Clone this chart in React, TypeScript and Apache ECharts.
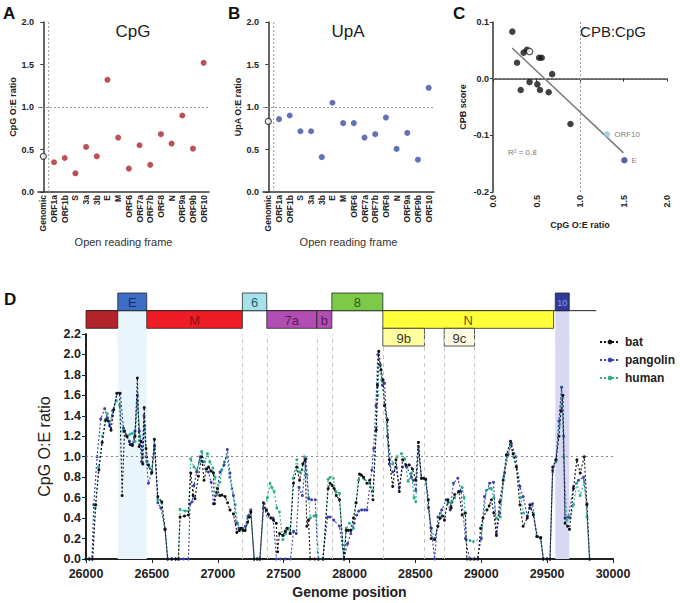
import React, { useEffect, useRef } from "react";
import * as echarts from "echarts";

// ---------- Panel A / B data ----------
const orfCategories = ["Genomic", "ORF1a", "ORF1b", "S", "3a", "3b", "E", "M", "ORF6", "ORF7a", "ORF7b", "ORF8", "N", "ORF9a", "ORF9b", "ORF10"];
const cpgRatio = [0.42, 0.35, 0.4, 0.22, 0.53, 0.42, 1.32, 0.64, 0.275, 0.55, 0.32, 0.68, 0.57, 0.9, 0.51, 1.52];
const upaRatio = [0.83, 0.857, 0.9, 0.715, 0.715, 0.41, 1.05, 0.81, 0.81, 0.64, 0.68, 0.876, 0.507, 0.695, 0.38, 1.226];

// ---------- Panel C data ----------
const cpbPointX = [0.222, 0.276, 0.318, 0.352, 0.39, 0.42, 0.51, 0.53, 0.54, 0.56, 0.64, 0.68, 0.89];
const cpbPointY = [0.083, 0.028, -0.02, 0.046, 0.051, -0.006, -0.01, 0.037, -0.02, 0.037, -0.024, 0.008, -0.08];
const cpbGenomic = [0.42, 0.048];
const cpbOrf10 = [1.31, -0.098];
const cpbE = [1.51, -0.144];
const regressionX = [0.22, 1.5];
const regressionY = [0.054, -0.131];

// ---------- Panel D data ----------
const batProfile = [
  [26000, 0], [26025, 0], [26050, 0], [26074, 0.53], [26098, 0.87], [26123, 1.14], [26150, 1.36], [26170, 1.35], [26190, 1.26], [26210, 1.46],
  [26235, 1.62], [26255, 1.62], [26274, 0.62], [26292, 1.25], [26312, 1.2], [26335, 1.12], [26352, 1.11], [26372, 1.2], [26390, 1.77], [26403, 1.1],
  [26418, 1.15], [26431, 0.93], [26442, 1.48], [26456, 1.08], [26474, 0.92], [26498, 0.84], [26519, 1.17], [26545, 0.61], [26575, 0.56], [26600, 0.29],
  [26620, 0], [26650, 0], [26680, 0], [26701, 0], [26714, 0.41], [26748, 0.42], [26777, 0.43], [26795, 0.84], [26813, 0.62], [26827, 0.59],
  [26853, 0.81], [26878, 1.0], [26896, 0.77], [26916, 0.88], [26930, 0.9], [26950, 0.86], [26967, 0.84], [26975, 0.54], [26998, 0.69], [27015, 0.62],
  [27031, 0.625], [27056, 0.61], [27075, 0.55], [27093, 0.48], [27119, 0.44], [27145, 0.26], [27163, 0.28], [27176, 0.3], [27193, 0.28], [27208, 0.28],
  [27227, 0.36], [27241, 0.41], [27251, 0.46], [27277, 0], [27300, 0], [27320, 0], [27347, 0.55], [27369, 0.48], [27384, 0.44], [27403, 0.4],
  [27423, 0.38], [27444, 0.35], [27454, 0.07], [27469, 0.25], [27494, 0.23], [27512, 0.27], [27525, 0.3], [27549, 0.25], [27575, 0.74], [27600, 0.9],
  [27621, 0.77], [27646, 0.93], [27663, 0.97], [27676, 0.32], [27689, 0.38], [27702, 0], [27735, 0], [27765, 0], [27800, 0], [27838, 0.69],
  [27853, 0.74], [27868, 0.72], [27883, 0.69], [27900, 0.62], [27924, 0.58], [27959, 0], [27975, 0.28], [27992, 0.28], [28010, 0.28], [28030, 0.4],
  [28050, 0.55], [28076, 0.83], [28090, 0.82], [28107, 0.8], [28132, 0.74], [28153, 0.77], [28178, 0.58], [28203, 1.26], [28212, 1.7], [28222, 2.03],
  [28240, 1.85], [28255, 1.75], [28266, 1.5], [28288, 1.36], [28302, 0.97], [28328, 0.71], [28353, 0.97], [28378, 0.66], [28403, 0.97], [28428, 0.92],
  [28453, 0.92], [28478, 0.88], [28503, 0.77], [28523, 1.14], [28546, 0.79], [28563, 0.79], [28578, 0.78], [28598, 0.58], [28620, 0.2], [28646, 0.19],
  [28671, 0.32], [28689, 0.4], [28706, 0.42], [28721, 0.38], [28747, 0.58], [28772, 0.5], [28798, 0.63], [28830, 0.66], [28855, 0.43], [28880, 0.45],
  [28891, 0], [28920, 0], [28950, 0], [28975, 0], [28995, 0.3], [29013, 0.4], [29043, 0.48], [29060, 0.52], [29077, 0.58], [29095, 0.45],
  [29115, 0.23], [29140, 0.56], [29166, 0.77], [29191, 1.02], [29222, 1.15], [29242, 1.03], [29267, 0.9], [29293, 0.53], [29318, 0.32], [29349, 0.4],
  [29369, 0.53], [29395, 0.43], [29425, 0.22], [29451, 0.21], [29471, 0], [29500, 0], [29522, 0], [29542, 0.9], [29567, 0.97], [29590, 1.2],
  [29605, 1.45], [29620, 1.6], [29636, 0.35], [29655, 0.32], [29670, 0.29], [29700, 0.69], [29726, 0.97], [29751, 0.84], [29782, 1.0], [29802, 0.53],
  [29822, 0],
];
const pangolinProfile = [
  [26000, 0], [26025, 0], [26045, 0], [26059, 0.53], [26084, 1.0], [26112, 1.37], [26142, 1.47], [26162, 1.38], [26180, 1.3], [26200, 1.4],
  [26235, 1.62], [26260, 1.62], [26285, 1.28], [26310, 1.2], [26330, 1.15], [26352, 1.12], [26372, 1.25], [26390, 1.6], [26405, 1.25], [26422, 0.95],
  [26440, 1.4], [26456, 1.0], [26474, 0.74], [26500, 0.85], [26520, 1.1], [26545, 0.55], [26568, 0.5], [26600, 0.29], [26620, 0], [26650, 0],
  [26680, 0], [26710, 0], [26740, 0], [26777, 0], [26790, 0.54], [26805, 0.56], [26820, 0.72], [26840, 0.85], [26866, 1.0], [26885, 0.95],
  [26910, 0.88], [26930, 0.85], [26950, 0.75], [26967, 0.54], [26990, 0.65], [27018, 0.85], [27048, 0.92], [27073, 1.07], [27093, 0.84], [27119, 0.62],
  [27140, 0.35], [27160, 0.3], [27185, 0.3], [27210, 0.32], [27230, 0.42], [27251, 0.48], [27275, 0], [27300, 0], [27320, 0], [27347, 0.5],
  [27380, 0.42], [27420, 0.4], [27445, 0], [27475, 0], [27510, 0], [27552, 0], [27575, 0.27], [27596, 0.25], [27617, 0.7], [27642, 0.62],
  [27670, 0.98], [27690, 0.59], [27712, 0.58], [27740, 0.58], [27760, 0], [27795, 0], [27835, 0.41], [27853, 0.41], [27880, 0.38], [27924, 0.32],
  [27959, 0], [27985, 0.15], [28010, 0.25], [28035, 0.35], [28055, 0.43], [28070, 0.47], [28092, 0.48], [28115, 0.48], [28132, 0.48], [28170, 0.87],
  [28183, 1.08], [28200, 1.5], [28215, 2.0], [28235, 1.9], [28250, 1.7], [28266, 1.72], [28288, 1.2], [28302, 0.93], [28328, 0.85], [28353, 0.9],
  [28378, 0.7], [28403, 0.9], [28435, 0.9], [28470, 0.8], [28485, 0.77], [28503, 0.67], [28523, 1.1], [28546, 0.79], [28578, 0.78], [28598, 0.5],
  [28620, 0.3], [28646, 0], [28671, 0.41], [28700, 0.48], [28733, 0.58], [28764, 0.48], [28789, 0.74], [28822, 0.79], [28847, 0.66], [28880, 0.2],
  [28911, 0], [28940, 0], [28970, 0], [29000, 0.2], [29025, 0.61], [29063, 0.74], [29093, 0.75], [29115, 0.25], [29140, 0.45], [29178, 0.84],
  [29204, 1.02], [29229, 1.13], [29262, 1.0], [29293, 0.71], [29318, 0.61], [29350, 0.42], [29370, 0.5], [29389, 0.54], [29420, 0.22], [29450, 0.2],
  [29471, 0], [29500, 0], [29522, 0], [29542, 0.87], [29567, 0.97], [29590, 1.35], [29610, 1.68], [29625, 1.2], [29636, 0.4], [29662, 0.41],
  [29700, 0.71], [29738, 0.77], [29776, 0.8], [29802, 0.54], [29822, 0],
];
const humanProfile = [
  [26000, 0], [26025, 0], [26050, 0], [26070, 0.5], [26095, 0.9], [26125, 1.2], [26145, 1.35], [26162, 1.42], [26180, 1.3], [26200, 1.45],
  [26230, 1.55], [26255, 1.5], [26280, 1.25], [26305, 1.2], [26335, 1.22], [26352, 1.23], [26372, 1.15], [26390, 1.55], [26410, 1.2], [26430, 1.0],
  [26445, 1.3], [26460, 0.95], [26480, 0.9], [26500, 0.85], [26520, 1.12], [26545, 0.58], [26575, 0.55], [26600, 0.29], [26620, 0], [26650, 0],
  [26680, 0], [26701, 0], [26714, 0.485], [26752, 0.47], [26777, 0.47], [26795, 0.98], [26820, 0.9], [26841, 0.87], [26860, 0.95], [26878, 1.05],
  [26900, 0.95], [26922, 1.03], [26940, 0.95], [26963, 0.89], [26980, 0.8], [26993, 0.63], [27015, 0.75], [27031, 0.87], [27050, 0.95], [27070, 1.0],
  [27090, 0.8], [27107, 0.69], [27133, 0.53], [27150, 0.35], [27170, 0.28], [27190, 0.3], [27210, 0.32], [27227, 0.4], [27251, 0.46], [27277, 0],
  [27300, 0], [27320, 0], [27349, 0.5], [27377, 0.6], [27397, 0.74], [27410, 0.7], [27428, 0.66], [27448, 0.5], [27468, 0.46], [27494, 0.19],
  [27515, 0.25], [27540, 0.3], [27552, 0.25], [27572, 0.79], [27600, 0.97], [27620, 0.85], [27640, 0.87], [27657, 1.0], [27676, 0.82], [27690, 0.6],
  [27702, 0.4], [27730, 0.42], [27748, 0.43], [27765, 0], [27800, 0], [27838, 0.78], [27853, 0.8], [27876, 0.79], [27897, 0.66], [27924, 0.64],
  [27954, 0], [27975, 0.3], [28000, 0.35], [28030, 0.3], [28050, 0.55], [28068, 0.77], [28107, 0.79], [28150, 0.74], [28178, 0.67], [28203, 1.29],
  [28215, 1.6], [28225, 1.9], [28245, 1.75], [28266, 1.5], [28296, 1.11], [28328, 0.93], [28360, 1.0], [28395, 1.03], [28420, 0.98], [28445, 0.76],
  [28470, 0.84], [28490, 0.6], [28503, 0.56], [28523, 1.07], [28546, 0.79], [28578, 0.78], [28598, 0.58], [28620, 0.3], [28646, 0.2], [28671, 0.32],
  [28690, 0.45], [28720, 0.42], [28747, 0.55], [28772, 0.55], [28798, 0.6], [28830, 0.66], [28855, 0.7], [28870, 0.6], [28887, 0.19], [28915, 0.18],
  [28942, 0.17], [29000, 0.2], [29038, 0.67], [29063, 0.69], [29077, 0.69], [29095, 0.6], [29115, 0.4], [29145, 0.41], [29170, 0.8], [29195, 1.0],
  [29222, 1.1], [29245, 1.0], [29280, 0.8], [29300, 0.6], [29320, 0.45], [29349, 0.42], [29369, 0.5], [29395, 0.45], [29425, 0.22], [29451, 0.21],
  [29471, 0], [29500, 0], [29522, 0], [29542, 0.85], [29567, 0.95], [29590, 1.3], [29610, 1.68], [29625, 1.0], [29650, 0.38], [29675, 0.4],
  [29700, 0.53], [29726, 0.74], [29751, 0.62], [29782, 0.76], [29802, 0.41], [29822, 0],
];

// Genome map (positions in nt, row 0 = top)
const geneLabels = ["", "E", "M", "6", "7a", "b", "8", "N", "9b", "9c", "10"];
const geneStarts = [26000, 26241, 26461, 27187, 27372, 27752, 27866, 28253, 28253, 28719, 29562];
const geneEnds = [26241, 26461, 27187, 27372, 27752, 27866, 28253, 29549, 28569, 28949, 29668];
const geneRows = [1, 0, 1, 0, 1, 1, 0, 1, 2, 2, 0];
const geneBoundaries = [27187, 27372, 27752, 27866, 28253, 28569, 28719, 28949];
const shadedE = [26241, 26461];
const shadedOrf10 = [29562, 29668];
const genomeLineEnd = 29873;

// styles (not data)
const geneFill = ["#b3232a", "#3e6dc6", "#ee1d25", "#a6e2ec", "#b24db3", "#b24db3", "#7dca48", "#ffff3a", "#ffff9e", "#fffbe2", "#2f3b9b"];
const geneText = ["#000", "#1b2a66", "#8a1014", "#2b5964", "#5a1a5a", "#5a1a5a", "#2a5b17", "#5a5a00", "#333", "#333", "#8e9be6"];

const FONT = "'Liberation Sans', Arial, Helvetica, sans-serif";
const AX = "#333";

function fmt1(v: number) {
  const r = Math.round(v * 10) / 10;
  return (Math.abs(r) < 1e-9 ? 0 : r).toFixed(1);
}

const noSym: any = ["none", "none"];

function orfPanel(idx: number, values: number[], color: string) {
  return [
    {
      type: "scatter",
      xAxisIndex: idx * 2,
      yAxisIndex: idx,
      symbolSize: 6,
      itemStyle: { color },
      data: values.map((v, i) =>
        i === 0
          ? { value: [orfCategories[i], v], itemStyle: { color: "#fff", borderColor: "#222", borderWidth: 1.2 } }
          : [orfCategories[i], v]
      ),
      markLine: {
        silent: true,
        symbol: noSym,
        label: { show: false },
        lineStyle: { color: "#999", type: [2, 2], width: 1 },
        data: [{ yAxis: 1 }],
      },
      z: 5,
    },
    {
      type: "line",
      xAxisIndex: idx * 2 + 1,
      yAxisIndex: idx,
      showSymbol: false,
      symbol: "none",
      lineStyle: { color: "#999", type: [2, 2], width: 1 },
      data: [[0.5, 0], [0.5, 2]],
      z: 1,
      silent: true,
    },
  ];
}

export default function App() {
  const ref = useRef<HTMLDivElement>(null);
  useEffect(() => {
    const chart = echarts.init(ref.current!, null, { renderer: "svg" });

    const catAxis = (gridIndex: number, name: string) => ({
      type: "category",
      gridIndex,
      data: orfCategories,
      boundaryGap: true,
      name,
      nameLocation: "middle",
      nameGap: 44,
      nameTextStyle: { fontFamily: FONT, fontSize: 11, color: "#333" },
      axisLine: { lineStyle: { color: AX, width: 1.5 } },
      axisTick: { alignWithLabel: true, length: 3, lineStyle: { color: AX } },
      axisLabel: { rotate: 90, interval: 0, margin: 3, fontFamily: FONT, fontSize: 8.5, fontWeight: "bold", color: "#222" },
      splitLine: { show: false },
    });
    const hiddenAxis = (gridIndex: number) => ({ type: "value", gridIndex, min: -0.5, max: 15.5, show: false });
    const ratioAxis = (gridIndex: number, name: string) => ({
      type: "value",
      gridIndex,
      min: 0,
      max: 2,
      interval: 0.5,
      name,
      nameLocation: "middle",
      nameGap: 20,
      nameTextStyle: { fontFamily: FONT, fontSize: 9, fontWeight: "bold", color: "#222" },
      axisLine: { show: true, lineStyle: { color: AX, width: 1.5 } },
      axisTick: { show: true, length: 3, lineStyle: { color: AX } },
      axisLabel: { formatter: fmt1, margin: 4, fontFamily: FONT, fontSize: 9, fontWeight: "bold", color: "#222" },
      splitLine: { show: false },
    });

    const dotted = (color: string) => ({ color, width: 1.1, type: [2, 2] });

    const option: any = {
      animation: false,
      backgroundColor: "#fff",
      textStyle: { fontFamily: FONT },
      grid: [
        { left: 38, top: 22, width: 171, height: 170 },
        { left: 263, top: 22, width: 171, height: 170 },
        { left: 493, top: 22, width: 174, height: 170 },
        { left: 86, top: 334, width: 527, height: 225 },
        { left: 86, top: 293, width: 527, height: 53 },
      ],
      legend: {
        orient: "vertical",
        left: 594,
        top: 331,
        itemWidth: 20,
        itemHeight: 6,
        itemGap: 6,
        data: ["bat", "pangolin", "human"],
        textStyle: { fontFamily: FONT, fontSize: 12, fontWeight: "bold", color: "#222" },
      },
      xAxis: [
        catAxis(0, "Open reading frame"),
        hiddenAxis(0),
        catAxis(1, "Open reading frame"),
        hiddenAxis(1),
        {
          type: "value",
          gridIndex: 2,
          min: 0,
          max: 2,
          interval: 0.5,
          name: "CpG O:E ratio",
          nameLocation: "middle",
          nameGap: 28,
          nameTextStyle: { fontFamily: FONT, fontSize: 9, fontWeight: "bold", color: "#222" },
          axisLine: { lineStyle: { color: AX, width: 1.5 } },
          axisTick: { show: true, length: 3, lineStyle: { color: AX } },
          axisLabel: { rotate: 90, formatter: fmt1, margin: 3, fontFamily: FONT, fontSize: 9, fontWeight: "bold", color: "#222" },
          splitLine: { show: false },
        },
        {
          type: "value",
          gridIndex: 3,
          min: 26000,
          max: 30000,
          interval: 500,
          name: "Genome position",
          nameLocation: "middle",
          nameGap: 26,
          nameTextStyle: { fontFamily: FONT, fontSize: 14, fontWeight: "bold", color: "#222" },
          axisLine: { lineStyle: { color: "#222", width: 2 } },
          axisTick: { show: true, length: 4, lineStyle: { color: "#222" } },
          axisLabel: { formatter: (v: number) => String(v), margin: 8, fontFamily: FONT, fontSize: 12.5, fontWeight: "bold", color: "#222" },
          splitLine: { show: false },
        },
        { type: "value", gridIndex: 4, min: 26000, max: 30000, show: false },
      ],
      yAxis: [
        ratioAxis(0, "CpG O:E ratio"),
        ratioAxis(1, "UpA O:E ratio"),
        {
          type: "value",
          gridIndex: 2,
          min: -0.2,
          max: 0.1,
          interval: 0.1,
          name: "CPB score",
          nameLocation: "middle",
          nameGap: 26,
          nameTextStyle: { fontFamily: FONT, fontSize: 9, fontWeight: "bold", color: "#222" },
          axisLine: { show: true, lineStyle: { color: AX, width: 1.5 } },
          axisTick: { show: true, length: 3, lineStyle: { color: AX } },
          axisLabel: { formatter: fmt1, margin: 4, fontFamily: FONT, fontSize: 9, fontWeight: "bold", color: "#222" },
          splitLine: { show: false },
        },
        {
          type: "value",
          gridIndex: 3,
          min: 0,
          max: 2.2,
          interval: 0.2,
          name: "CpG O:E ratio",
          nameLocation: "middle",
          nameGap: 30,
          nameTextStyle: { fontFamily: FONT, fontSize: 16, color: "#222" },
          axisLine: { show: true, lineStyle: { color: "#222", width: 2 } },
          axisTick: { show: true, length: 4, lineStyle: { color: "#222" } },
          axisLabel: { formatter: fmt1, margin: 5, fontFamily: FONT, fontSize: 12.5, fontWeight: "bold", color: "#222" },
          splitLine: { show: false },
        },
        { type: "value", gridIndex: 4, min: 0, max: 3, inverse: true, show: false },
      ],
      series: [
        ...orfPanel(0, cpgRatio, "#a8262a"),
        ...orfPanel(1, upaRatio, "#3b4ea8"),
        // Panel C
        {
          type: "line",
          xAxisIndex: 4,
          yAxisIndex: 2,
          symbol: "none",
          lineStyle: { color: "#7a7a7a", width: 1.5 },
          data: regressionX.map((x, i) => [x, regressionY[i]]),
          markLine: {
            silent: true,
            symbol: noSym,
            label: { show: false },
            lineStyle: { color: "#999", type: [2, 2], width: 1 },
            data: [{ yAxis: 0 }, { xAxis: 1 }],
          },
          z: 2,
        },
        {
          type: "scatter",
          xAxisIndex: 4,
          yAxisIndex: 2,
          symbolSize: 6.5,
          itemStyle: { color: "#111" },
          data: [
            ...cpbPointX.map((x, i) => [x, cpbPointY[i]]),
            { value: cpbGenomic, itemStyle: { color: "#fff", borderColor: "#222", borderWidth: 1.2 } },
            {
              value: cpbOrf10,
              itemStyle: { color: "#8ecae8" },
              label: { show: true, position: "right", distance: 4, formatter: "ORF10", fontSize: 8, color: "#555", fontFamily: FONT },
            },
            {
              value: cpbE,
              itemStyle: { color: "#2c3b8e" },
              label: { show: true, position: "right", distance: 4, formatter: "E", fontSize: 8, color: "#555", fontFamily: FONT },
            },
          ],
          z: 5,
        },
        // Panel D genome map
        {
          type: "line",
          xAxisIndex: 6,
          yAxisIndex: 4,
          symbol: "none",
          silent: true,
          lineStyle: { color: "#222", width: 1 },
          data: [[geneStarts[0], 1], [genomeLineEnd, 1]],
          markArea: {
            silent: true,
            itemStyle: { color: "#e8f6fc" },
            data: [
              [{ xAxis: shadedE[0], yAxis: 1 }, { xAxis: shadedE[1], yAxis: 3 }],
              [{ xAxis: shadedOrf10[0], yAxis: 1, itemStyle: { color: "#d8d8f2" } }, { xAxis: shadedOrf10[1], yAxis: 3 }],
            ],
          },
          z: 1,
        },
        {
          type: "custom",
          xAxisIndex: 6,
          yAxisIndex: 4,
          silent: true,
          z: 3,
          data: geneStarts.map((s, i) => [s, geneEnds[i], geneRows[i], i]),
          renderItem: (params: any, api: any) => {
            const s = api.value(0);
            const e = api.value(1);
            const row = api.value(2);
            const k = api.value(3);
            const p0 = api.coord([s, row]);
            const p1 = api.coord([e, row + 1]);
            const small = geneLabels[k] === "10";
            return {
              type: "group",
              children: [
                {
                  type: "rect",
                  shape: { x: p0[0], y: p0[1], width: p1[0] - p0[0], height: p1[1] - p0[1] },
                  style: { fill: geneFill[k], stroke: "rgba(30,30,30,0.75)", lineWidth: 1 },
                },
                {
                  type: "text",
                  style: {
                    text: geneLabels[k],
                    x: (p0[0] + p1[0]) / 2,
                    y: (p0[1] + p1[1]) / 2 + 1,
                    align: "center",
                    verticalAlign: "middle",
                    fill: geneText[k],
                    font: (small ? "9px " : "13px ") + FONT,
                  },
                },
              ],
            };
          },
        },
        // Panel D profiles
        {
          name: "human",
          type: "line",
          xAxisIndex: 5,
          yAxisIndex: 3,
          symbol: "circle",
          symbolSize: 3,
          itemStyle: { color: "#2aae8c" },
          lineStyle: dotted("#2aae8c"),
          data: humanProfile,
          z: 3,
        },
        {
          name: "pangolin",
          type: "line",
          xAxisIndex: 5,
          yAxisIndex: 3,
          symbol: "circle",
          symbolSize: 3,
          itemStyle: { color: "#3a40a6" },
          lineStyle: dotted("#3a40a6"),
          data: pangolinProfile,
          z: 4,
        },
        {
          name: "bat",
          type: "line",
          xAxisIndex: 5,
          yAxisIndex: 3,
          symbol: "circle",
          symbolSize: 3,
          itemStyle: { color: "#111" },
          lineStyle: dotted("#111"),
          data: batProfile,
          z: 5,
          markArea: {
            silent: true,
            itemStyle: { color: "#e8f6fc" },
            data: [
              [{ xAxis: shadedE[0] }, { xAxis: shadedE[1] }],
              [{ xAxis: shadedOrf10[0], itemStyle: { color: "#d8d8f2" } }, { xAxis: shadedOrf10[1] }],
            ],
          },
          markLine: {
            silent: true,
            symbol: noSym,
            label: { show: false },
            data: [
              { yAxis: 1, lineStyle: { color: "#888", type: [2, 3], width: 1 } },
              ...geneBoundaries.map((b) => ({ xAxis: b, lineStyle: { color: "#c8c8c8", type: [4, 4], width: 1 } })),
            ],
          },
        },
      ],
      graphic: [
        { type: "text", left: 3, top: 5, style: { text: "A", font: "bold 17px " + FONT, fill: "#111" } },
        { type: "text", left: 228, top: 5, style: { text: "B", font: "bold 17px " + FONT, fill: "#111" } },
        { type: "text", left: 453, top: 5, style: { text: "C", font: "bold 17px " + FONT, fill: "#111" } },
        { type: "text", left: 4, top: 291, style: { text: "D", font: "bold 17px " + FONT, fill: "#111" } },
        { type: "text", x: 133, y: 31, style: { text: "CpG", font: "17px " + FONT, fill: "#222", align: "center", verticalAlign: "middle" } },
        { type: "text", x: 348, y: 31, style: { text: "UpA", font: "17px " + FONT, fill: "#222", align: "center", verticalAlign: "middle" } },
        { type: "text", x: 613, y: 31, style: { text: "CPB:CpG", font: "15px " + FONT, fill: "#222", align: "center", verticalAlign: "middle" } },
        { type: "text", x: 508, y: 152, style: { text: "R² = 0.8", font: "8px " + FONT, fill: "#777", verticalAlign: "middle" } },
      ],
    };

    chart.setOption(option);
    return () => chart.dispose();
  }, []);

  return (
    <div
      ref={ref}
      style={{ position: "absolute", left: 0, top: 0, width: 680, height: 603, background: "#fff" }}
    />
  );
}
